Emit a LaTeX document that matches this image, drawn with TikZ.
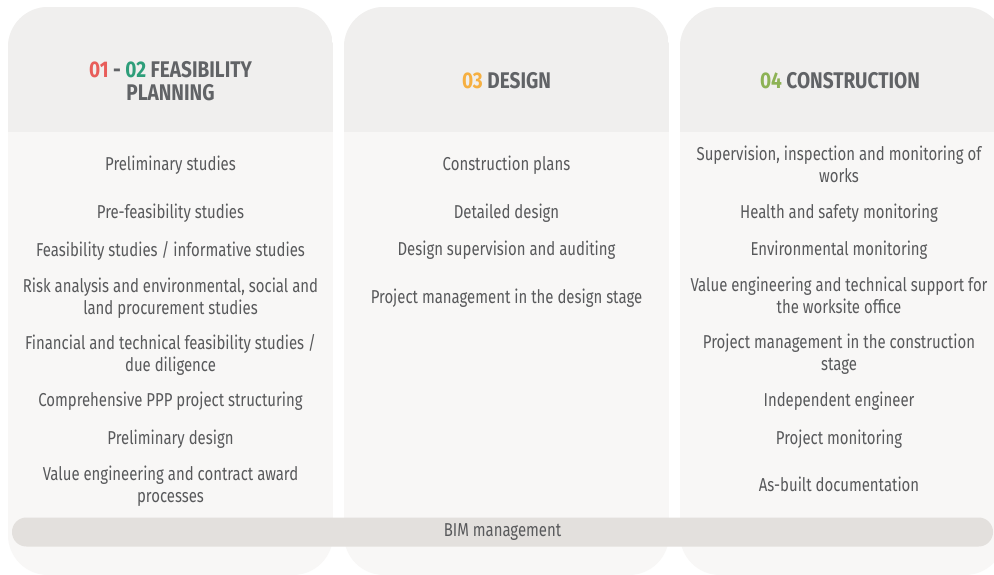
\documentclass[tikz,border=0pt]{standalone}
\usepackage{fontspec}
\setmainfont[FakeStretch=0.8, BoldFeatures={FakeStretch=0.84}]{Fira Sans}
\definecolor{headbg}{HTML}{F0EFEE}
\definecolor{bodybg}{HTML}{F8F7F6}
\definecolor{barbg}{HTML}{E3E0DD}
\definecolor{txt}{HTML}{58595B}
\definecolor{htxt}{HTML}{616366}
\definecolor{cred}{HTML}{E85D5A}
\definecolor{cgreen}{HTML}{2E9E7A}
\definecolor{corange}{HTML}{F6B042}
\definecolor{colive}{HTML}{8DB255}
\newcommand\ms{\strut}
\begin{document}
\begin{tikzpicture}[x=0.75pt,y=-0.75pt,
  item/.style={font=\fontsize{14}{16.5}\selectfont, text=txt, align=center, inner sep=0pt},
  head/.style={font=\bfseries\fontsize{17}{15.5}\selectfont, text=htxt, align=center, inner sep=0pt},
  colbody/.style={fill=bodybg},
  colhead/.style={fill=headbg},
  bimbar/.style={fill=barbg, rounded corners=10.8pt, minimum width=735.75pt, minimum height=21.75pt, inner sep=0pt, font=\fontsize{14}{16.5}\selectfont, text=txt}]
\useasboundingbox (0,0) rectangle (994,574);
\clip (0,0) rectangle (994,574);
\fill[white] (0,0) rectangle (994,574);
\foreach \x in {8,344,680} {
  \begin{scope}
    \clip[rounded corners=30pt] (\x,7) rectangle ++(325,568);
    \path[colbody] (\x,7) rectangle ++(325,568);
    \path[colhead] (\x,7) rectangle ++(325,125);
  \end{scope}
}
% headings
\node[head] (h1) at (170.5,84) {\ms{\color{cred}01} - {\color{cgreen}02} FEASIBILITY\\\ms PLANNING};
\node[head] (h2) at (506.5,84) {\ms{\color{corange}03} DESIGN};
\node[head] (h3) at (840,84) {\ms{\color{colive}04} CONSTRUCTION};
% column 1
\node[item] (a1) at (170.5,166) {\ms Preliminary studies};
\node[item] (a2) at (170.5,214) {\ms Pre-feasibility studies};
\node[item] (a3) at (170.5,252) {\ms Feasibility studies / informative studies};
\node[item] (a4) at (170.5,299.5) {\ms Risk analysis and environmental, social and\\\ms land procurement studies};
\node[item] (a5) at (170.5,356) {\ms Financial and technical feasibility studies /\\\ms due diligence};
\node[item] (a6) at (170.5,402) {\ms Comprehensive PPP project structuring};
\node[item] (a7) at (170.5,440) {\ms Preliminary design};
\node[item] (a8) at (170.5,487.5) {\ms Value engineering and contract award\\\ms processes};
% column 2
\node[item] (b1) at (506.5,166) {\ms Construction plans};
\node[item] (b2) at (506.5,214) {\ms Detailed design};
\node[item] (b3) at (506.5,251) {\ms Design supervision and auditing};
\node[item] (b4) at (506.5,299) {\ms Project management in the design stage};
% column 3
\node[item] (c1) at (839,167.5) {\ms Supervision, inspection and monitoring of\\\ms works};
\node[item] (c2) at (839,214) {\ms Health and safety monitoring};
\node[item] (c3) at (839,251) {\ms Environmental monitoring};
\node[item] (c4) at (839,298.5) {\ms Value engineering and technical support for\\\ms the worksite office};
\node[item] (c5) at (839,355.5) {\ms Project management in the construction\\\ms stage};
\node[item] (c6) at (839,402) {\ms Independent engineer};
\node[item] (c7) at (839,440) {\ms Project monitoring};
\node[item] (c8) at (839,487) {\ms As-built documentation};
% BIM bar
\node[bimbar] (bim) at (502.5,532) {\ms BIM management};
\end{tikzpicture}
\end{document}
